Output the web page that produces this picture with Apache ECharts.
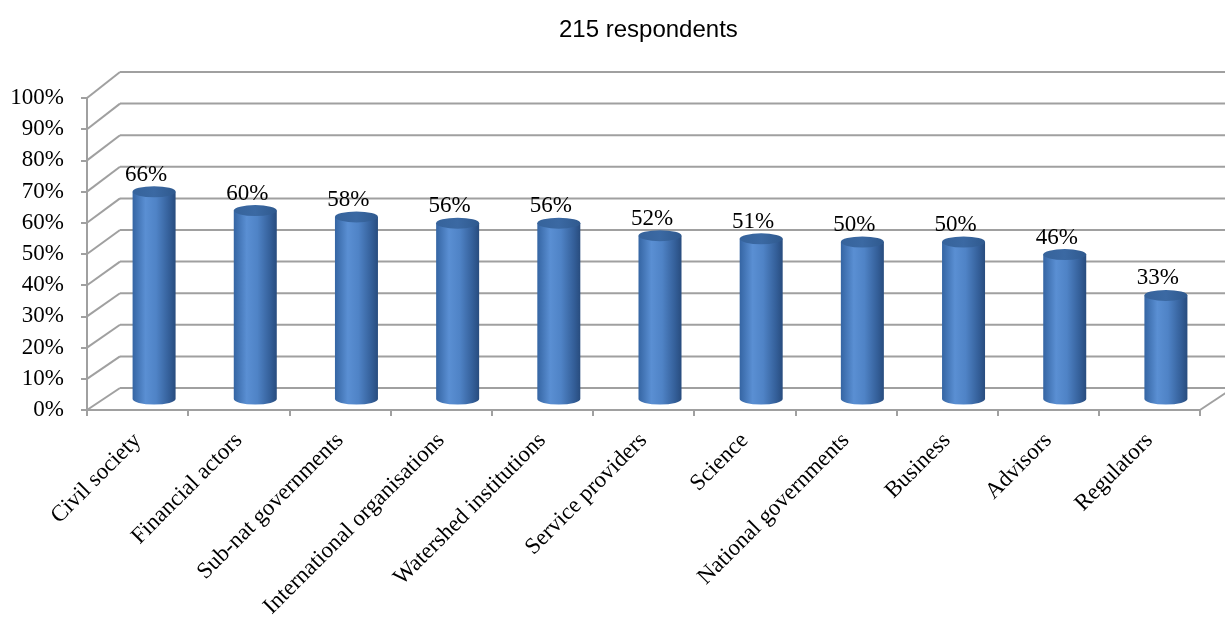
<!DOCTYPE html>
<html>
<head>
<meta charset="utf-8">
<script src="https://cdn.jsdelivr.net/npm/echarts@6/dist/echarts.min.js"></script>
<style>
  html, body { margin: 0; padding: 0; background: #fff; }
  #chart { width: 1225px; height: 617px; }
</style>
</head>
<body>
<div id="chart"></div>
<script>
// Share of respondents per stakeholder group
const categories = [
  'Civil society', 'Financial actors', 'Sub-nat governments',
  'International organisations', 'Watershed institutions', 'Service providers',
  'Science', 'National governments', 'Business', 'Advisors', 'Regulators'
];
const shares = [66, 60, 58, 56, 56, 52, 51, 50, 50, 46, 33];
const yTicks = [0, 10, 20, 30, 40, 50, 60, 70, 80, 90, 100];
const titleText = '215 respondents';

// 3D wall depth: horizontal shift and vertical shift (varies slightly with height)
const DEPTH_X = 33;
function depthY(y, top, bottom) {
  const f = (y - top) / (bottom - top);
  return -26 + 4 * f;
}
const GRID_COLOR = '#a0a0a0';
const SERIF = "'Liberation Serif', 'Times New Roman', serif";

const chart = echarts.init(document.getElementById('chart'));

function renderWalls(params, api) {
  const cs = params.coordSys;
  const top = cs.y, bottom = cs.y + cs.height;
  const x0 = cs.x, x1 = cs.x + cs.width;
  const children = [];
  const style = { stroke: GRID_COLOR, lineWidth: 2 };
  yTicks.forEach(function (v) {
    const y = api.coord([0, v])[1];
    const dy = depthY(y, top, bottom);
    children.push({ type: 'line', shape: { x1: x0, y1: y, x2: x0 + DEPTH_X, y2: y + dy }, style: style });
    children.push({ type: 'line', shape: { x1: x0 + DEPTH_X, y1: y + dy, x2: x1 + DEPTH_X, y2: y + dy }, style: style });
  });
  const yb = api.coord([0, 0])[1];
  children.push({ type: 'line', shape: { x1: x1, y1: yb, x2: x1 + DEPTH_X, y2: yb + depthY(yb, top, bottom) }, style: style });
  return { type: 'group', children: children };
}

function renderCylinder(params, api) {
  const cs = params.coordSys;
  const top = cs.y, bottom = cs.y + cs.height;
  const i = api.value(0), v = api.value(1);
  const pTop = api.coord([i, v]);
  const pBase = api.coord([i, 0]);
  const cx = pTop[0] + DEPTH_X / 2;
  const ty = pTop[1] + depthY(pTop[1], top, bottom) / 2;
  const by = pBase[1] + depthY(pBase[1], top, bottom) / 2;
  const rx = 21.5, ry = 5.5;
  const l = cx - rx, r = cx + rx;
  const bodyFill = new echarts.graphic.LinearGradient(0, 0, 1, 0, [
    { offset: 0, color: '#3565a3' },
    { offset: 0.3, color: '#5a8fd3' },
    { offset: 0.55, color: '#4f83c6' },
    { offset: 0.85, color: '#345f99' },
    { offset: 1, color: '#284c7e' }
  ]);
  const topFill = new echarts.graphic.LinearGradient(0, 0, 1, 0, [
    { offset: 0, color: '#36639b' },
    { offset: 0.5, color: '#3b69a3' },
    { offset: 1, color: '#2f598e' }
  ]);
  return {
    type: 'group',
    children: [
      {
        type: 'path',
        shape: {
          pathData: 'M' + l + ' ' + ty + ' L' + l + ' ' + by +
            ' A' + rx + ' ' + ry + ' 0 0 0 ' + r + ' ' + by +
            ' L' + r + ' ' + ty + ' Z'
        },
        style: { fill: bodyFill }
      },
      {
        type: 'path',
        shape: {
          pathData: 'M' + l + ' ' + ty +
            ' A' + rx + ' ' + ry + ' 0 1 0 ' + r + ' ' + ty +
            ' A' + rx + ' ' + ry + ' 0 1 0 ' + l + ' ' + ty + ' Z'
        },
        style: { fill: topFill }
      },
      {
        type: 'text',
        x: cx - 8,
        y: ty - 17,
        style: {
          text: v + '%',
          fill: '#000',
          font: '23px ' + SERIF,
          textAlign: 'center',
          textVerticalAlign: 'middle'
        }
      }
    ]
  };
}

chart.setOption({
  animation: false,
  backgroundColor: '#fff',
  title: {
    text: titleText,
    left: 554,
    top: 13,
    textStyle: { fontFamily: "'Liberation Sans', Arial, sans-serif", fontSize: 24, fontWeight: 'normal', color: '#000' }
  },
  grid: { left: 87, right: 25, top: 98, bottom: 207, containLabel: false, outerBoundsMode: 'none' },
  xAxis: {
    type: 'category',
    data: categories,
    boundaryGap: true,
    axisLine: { lineStyle: { color: GRID_COLOR, width: 2 } },
    axisTick: { show: true, length: 6, lineStyle: { color: GRID_COLOR, width: 2 } },
    axisLabel: { rotate: 45, interval: 0, margin: 27, color: '#000', fontFamily: SERIF, fontSize: 23 },
    splitLine: { show: false },
    z: 1
  },
  yAxis: {
    type: 'value',
    min: 0,
    max: 100,
    interval: 10,
    axisLine: { show: true, lineStyle: { color: GRID_COLOR, width: 2 } },
    axisTick: { show: true, length: 6, lineStyle: { color: GRID_COLOR, width: 2 } },
    axisLabel: { formatter: '{value}%', margin: 23, color: '#000', fontFamily: SERIF, fontSize: 23 },
    splitLine: { show: false }
  },
  series: [
    {
      type: 'custom',
      renderItem: renderWalls,
      data: [[0, 0]],
      silent: true,
      z: 0
    },
    {
      type: 'custom',
      renderItem: renderCylinder,
      encode: { x: 0, y: 1 },
      data: shares.map(function (v, i) { return [i, v]; }),
      z: 5
    }
  ]
});
</script>
</body>
</html>
